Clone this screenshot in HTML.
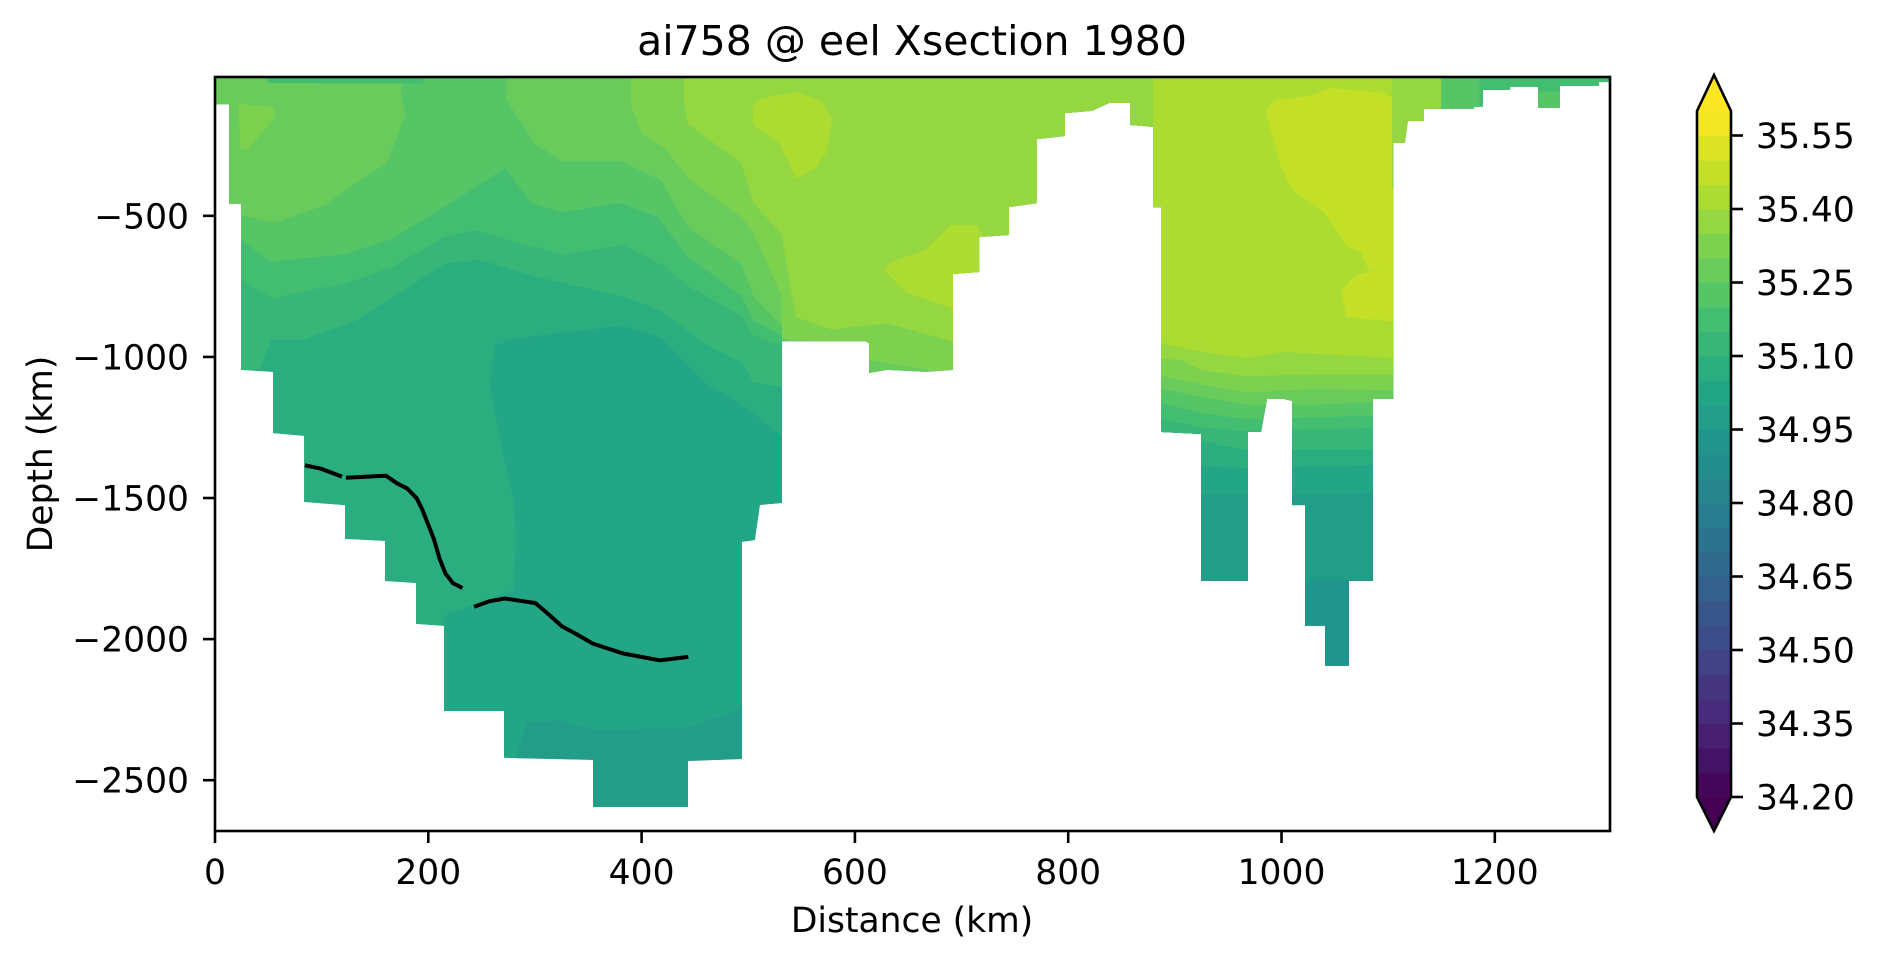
<!DOCTYPE html>
<html>
<head>
<meta charset="utf-8">
<style>
  html,body{margin:0;padding:0;background:#fff;}
  svg{display:block;font-family:"DejaVu Sans","Liberation Sans",sans-serif;}
</style>
</head>
<body>
<svg id="chart" width="1880" height="963" viewBox="0 0 1880 963" xmlns="http://www.w3.org/2000/svg">
  <rect x="0" y="0" width="1880" height="963" fill="#fff"/>
  <text x="912" y="55" font-size="41" text-anchor="middle" fill="#000">ai758 @ eel Xsection 1980</text>
  <defs><clipPath id="maskclip"><polygon id="maskpoly"/></clipPath></defs>
  <g id="field" clip-path="url(#maskclip)"></g>
  <g id="isoline"></g>
  <rect x="215" y="77" width="1395" height="754" fill="none" stroke="#000" stroke-width="2.6"/>
  <g id="xaxis"></g>
  <g id="yaxis"></g>
  <text x="912" y="932" font-size="34.5" text-anchor="middle">Distance (km)</text>
  <text x="0" y="0" font-size="34.5" text-anchor="middle" transform="translate(52,454) rotate(-90)">Depth (km)</text>
  <g id="cbar"></g>
</svg>
<script>
// ---- data ----
const xTicks = [0, 200, 400, 600, 800, 1000, 1200];
const yTicks = [-500, -1000, -1500, -2000, -2500];
const cbarTicks = [34.20, 34.35, 34.50, 34.65, 34.80, 34.95, 35.10, 35.25, 35.40, 35.55];
const levelMin = 34.20, levelStep = 0.05, levelCount = 28;
const dataMask = [[0,-8],[1308,-8],[1308,-26],[1297.7,-26],[1297.7,-40],[1261.1,-40],[1261.1,-118],[1240.5,-118],[1240.5,-43],[1214.3,-43],[1214.3,-54],[1188.9,-54],[1188.9,-114],[1180.5,-114],[1180.5,-121],[1133.6,-121],[1133.6,-164],[1118.6,-164],[1115.8,-242],[1104.6,-242],[1104.6,-1149],[1085.8,-1149],[1085.8,-1794],[1063.3,-1794],[1063.3,-2095],[1040.8,-2095],[1040.8,-1953],[1022,-1953],[1022,-1525],[1009.8,-1525],[1009.8,-1156],[1002.3,-1149],[986.4,-1149],[980.8,-1266],[968.6,-1266],[968.6,-1794],[924.5,-1794],[924.5,-1273],[887,-1266],[887,-469],[879.5,-469],[879.5,-185],[857.9,-178],[857.9,-100],[838.3,-100],[822.3,-128],[797,-136],[797,-217],[770.7,-228],[770.7,-455],[744.5,-469],[744.5,-568],[716.4,-575],[716.4,-699],[692,-706],[692,-1046],[666.7,-1053],[630.1,-1046],[613.2,-1057],[613.2,-951],[609.5,-944],[531.6,-944],[531.6,-1518],[511,-1525],[506.3,-1649],[494.1,-1656],[494.1,-2425],[443.5,-2432],[443.5,-2595],[354.4,-2595],[354.4,-2428],[271,-2421],[271,-2255],[214.7,-2255],[214.7,-1953],[188.5,-1946],[188.5,-1801],[159.4,-1794],[159.4,-1652],[121.9,-1645],[121.9,-1525],[83.5,-1514],[83.5,-1280],[54.4,-1270],[54.4,-1053],[24.4,-1046],[24.4,-458],[13.1,-458],[13.1,-104],[0,-104]];
const baseLevel = 16;
const regionLevels = [15,17,18,19,20,21,21,22,22,23,24,24,19, 14,15,16,17,18,19,20,21,22,23,24,25,25,23,20,19,20];
const regionShapes = [
 [[282.3,-2420],[293.1,-2298],[325.4,-2289],[354.1,-2324],[443.8,-2315],[494,-2246],[515.6,-2246],[515.6,-2942],[282.3,-2942]],
 [[-20,100],[605,100],[605,-1280],[531.7,-1280],[494,-1167],[461.7,-1097],[418.7,-932],[382.8,-888],[282.3,-932],[262.6,-958],[257.2,-1097],[268,-1306],[278.8,-1497],[282.3,-1637],[278.8,-1828],[214.9,-1915],[214.9,-2942],[-20,-2942]],
 [[-20,100],[-20,-1045],[42,-1045],[52.7,-937],[83.2,-937],[131.6,-871],[167.5,-787],[214.2,-671],[246.5,-653],[300.3,-714],[382.8,-784],[418.7,-836],[461.7,-958],[494,-1019],[504.8,-1088],[531.7,-1106],[540,-1106],[880,-1100],[880,100]],
 [[-20,100],[-20,-723],[24,-723],[54.5,-793],[81.4,-766],[120.9,-740],[167.5,-679],[214.2,-575],[242.9,-549],[275.2,-584],[325.4,-636],[382.8,-601],[422.3,-679],[443.8,-749],[494,-854],[504.8,-923],[531.7,-958],[540,-996],[880,-1100],[880,100]],
 [[-20,100],[-20,-584],[24,-584],[52.7,-662],[120.9,-636],[163.9,-584],[210.6,-479],[271.6,-331],[296.7,-453],[325.4,-488],[381,-453],[415.1,-505],[443.8,-645],[494,-784],[504.8,-871],[531.7,-923],[540,-940],[880,-1100],[880,100]],
 [[-20,100],[174.7,100],[174.7,-87.6],[178.3,-140],[160.4,-314],[131.6,-384],[102.9,-462],[56.3,-523],[24,-497],[13.2,-453],[-20,-453]],
 [[273.4,100],[273.4,-87.6],[300.3,-244],[325.4,-305],[381,-305],[418.7,-375],[443.8,-540],[494,-671],[504.8,-784],[531.7,-888],[531.8,-931],[600,-1100],[880,-1100],[880,100]],
 [[22.2,-105],[54.5,-114],[56.3,-149],[31.2,-262],[24,-262]],
 [[390,100],[390,-105],[400.7,-209],[422.3,-262],[443.8,-366],[494,-505],[504.8,-557],[531.7,-784],[531.8,-938],[573.3,-945],[614.8,-1010],[692.7,-1061],[880,-1061],[880,100]],
 [[440.2,100],[440.2,-105],[443.8,-175],[494,-314],[504.8,-453],[529.9,-557],[531.8,-576],[544.7,-858],[578.5,-902],[630.4,-880],[692.7,-945],[880,-945],[880,100]],
 [[504.8,-114],[512,-85],[544.3,-61],[568.1,-91.7],[578.5,-156.8],[573.3,-272],[562.9,-330],[544.7,-366],[529.9,-244],[504.8,-175]],
 [[627.8,-692],[648.6,-772],[692.7,-829],[692.7,-706],[716.1,-699],[721.3,-576],[713.5,-533],[690.1,-533],[666.8,-620],[635.6,-663]],
 [[40,100],[200,100],[195,-30],[50,-28]],
 [[880,100],[1110,100],[1110,-3000],[880,-3000]],
 [[880,100],[1110,100],[1110,-1791],[880,-1791]],
 [[880,100],[1110,100],[1110,-1480],[1022,-1487],[968,-1487],[926,-1487],[880,-1487]],
 [[880,100],[1110,100],[1110,-1379],[1030,-1386],[968,-1393],[926,-1386],[880,-1386]],
 [[880,100],[1110,100],[1110,-1328],[1030,-1328],[968,-1328],[926,-1299],[880,-1299]],
 [[880,100],[1110,100],[1110,-1249],[1030,-1256],[968,-1263],[926,-1249],[880,-1213]],
 [[880,100],[1110,100],[1110,-1205],[1030,-1213],[968,-1220],[926,-1198],[880,-1155]],
 [[880,100],[1110,100],[1110,-1155],[1030,-1169],[968,-1169],[926,-1140],[880,-1108]],
 [[880,100],[1110,100],[1110,-1119],[1030,-1111],[968,-1126],[926,-1097],[880,-1061]],
 [[880,100],[1110,100],[1110,-1061],[1030,-1061],[968,-1068],[926,-1046],[906,-1010],[880,-1003]],
 [[880,100],[1110,100],[1110,-1003],[999,-981],[968,-1003],[926,-981],[880,-945]],
 [[986.1,-128],[993.8,-92],[1025,-77],[1045.8,-48],[1092.5,-63],[1105.5,-84],[1105.5,-692],[1082.1,-692],[1074.3,-627],[1061.4,-605],[1040.6,-489],[1009.4,-403],[999,-316],[986.1,-142]],
 [[1056.2,-764],[1069.1,-714],[1082.1,-699],[1104.4,-685],[1104.4,-873],[1061.4,-858]],
 [[1104,100],[1150,100],[1150,-400],[1104,-400]],
 [[1150,100],[1186,100],[1186,-400],[1150,-400]],
 [[1186,100],[1320,100],[1320,-400],[1186,-400]],
 [[1238,-60],[1262,-60],[1262,-400],[1238,-400]]
];
const lineSegA = [[84.3,-1384],[99.4,-1396],[119.1,-1424]];
const lineSegB = [[122.7,-1428],[160.3,-1421],[171.1,-1449],[180.1,-1466],[189.1,-1501],[194.4,-1541],[199.8,-1593],[205.2,-1645],[210.6,-1715],[216,-1767],[223.1,-1802],[232.1,-1819]];
const lineSegC = [[242.9,-1885],[257.2,-1866],[271.6,-1856],[300.3,-1872],[311,-1906],[325.4,-1955],[339.7,-1984],[354.1,-2016],[382.8,-2051],[416.9,-2075],[443.8,-2063]];

// ---- scales ----
const X0=215, X1=1610, XMIN=0, XMAX=1308;
const Y0=77, Y1=831, YTOP=-8, YBOT=-2680;
function sx(v){ return X0 + (v-XMIN)/(XMAX-XMIN)*(X1-X0); }
function sy(v){ return Y0 + (YTOP-v)/(YTOP-YBOT)*(Y1-Y0); }
const CB_TOP=111, CB_BOT=797, CB_X=1697, CB_W=34;
function cy(v){ return CB_BOT - (v-levelMin)/(levelStep*levelCount)*(CB_BOT-CB_TOP); }

const VIR = ["#440154","#482475","#414487","#355f8d","#2a788e","#21918c","#22a884","#44bf70","#7ad151","#bddf26","#fde725"];
function hex(c){ return [parseInt(c.slice(1,3),16),parseInt(c.slice(3,5),16),parseInt(c.slice(5,7),16)]; }
function viridis(t){
  t=Math.max(0,Math.min(1,t)); const f=t*10, i=Math.min(9,Math.floor(f)), r=f-i;
  const a=hex(VIR[i]), b=hex(VIR[i+1]);
  return "rgb("+a.map((v,j)=>Math.round(v+(b[j]-v)*r)).join(",")+")";
}
function bandColor(k){ return viridis((k+0.5)/levelCount); }
function pts(arr){ return arr.map(p=>sx(p[0]).toFixed(1)+","+sy(p[1]).toFixed(1)).join(" "); }

const NS="http://www.w3.org/2000/svg";
const field=document.getElementById("field");
document.getElementById("maskpoly").setAttribute("points", pts(dataMask));

const base=document.createElementNS(NS,"polygon");


base.setAttribute("points", pts(dataMask));
base.setAttribute("fill", bandColor(baseLevel));
field.appendChild(base);

regionShapes.forEach((shape,i)=>{
  const p=document.createElementNS(NS,"polygon");
  
  
  p.setAttribute("points", pts(shape));
  p.setAttribute("fill", bandColor(regionLevels[i]));
  p.setAttribute("stroke", bandColor(regionLevels[i]));
  p.setAttribute("stroke-width", "0.6");
  field.appendChild(p);
});

const iso=document.getElementById("isoline");
[lineSegA,lineSegB,lineSegC].forEach(seg=>{
  const l=document.createElementNS(NS,"polyline");
  
  
  l.setAttribute("points", pts(seg));
  l.setAttribute("fill","none");
  l.setAttribute("stroke","#000");
  l.setAttribute("stroke-width","4");
  iso.appendChild(l);
});

const xa=document.getElementById("xaxis");
xTicks.forEach(v=>{
  const t=document.createElementNS(NS,"line");
  
  
  t.setAttribute("x1",sx(v)); t.setAttribute("x2",sx(v));
  t.setAttribute("y1",Y1); t.setAttribute("y2",Y1+12);
  t.setAttribute("stroke","#000"); t.setAttribute("stroke-width","2.6");
  xa.appendChild(t);
  const s=document.createElementNS(NS,"text");
  
  
  s.setAttribute("x",sx(v)); s.setAttribute("y",884);
  s.setAttribute("font-size","34.5"); s.setAttribute("text-anchor","middle");
  s.textContent=String(v);
  xa.appendChild(s);
});
const ya=document.getElementById("yaxis");
yTicks.forEach(v=>{
  const t=document.createElementNS(NS,"line");
  
  
  t.setAttribute("x1",X0-12); t.setAttribute("x2",X0);
  t.setAttribute("y1",sy(v)); t.setAttribute("y2",sy(v));
  t.setAttribute("stroke","#000"); t.setAttribute("stroke-width","2.6");
  ya.appendChild(t);
  const s=document.createElementNS(NS,"text");
  
  
  s.setAttribute("x",189); s.setAttribute("y",sy(v)+12.5);
  s.setAttribute("font-size","34.5"); s.setAttribute("text-anchor","end");
  s.textContent="\u2212"+String(Math.abs(v));
  ya.appendChild(s);
});

const cb=document.getElementById("cbar");
for(let k=0;k<levelCount;k++){
  const r=document.createElementNS(NS,"rect");
  
  
  const yA=cy(levelMin+(k+1)*levelStep), yB=cy(levelMin+k*levelStep);
  r.setAttribute("x",CB_X); r.setAttribute("y",yA);
  r.setAttribute("width",CB_W); r.setAttribute("height",yB-yA+0.6);
  r.setAttribute("fill",bandColor(k));
  cb.appendChild(r);
}
const triTop=document.createElementNS(NS,"polygon");


triTop.setAttribute("points",`${CB_X},${CB_TOP} ${CB_X+CB_W/2},75 ${CB_X+CB_W},${CB_TOP}`);
triTop.setAttribute("fill",viridis(1));
cb.appendChild(triTop);
const triBot=document.createElementNS(NS,"polygon");


triBot.setAttribute("points",`${CB_X},${CB_BOT} ${CB_X+CB_W/2},831 ${CB_X+CB_W},${CB_BOT}`);
triBot.setAttribute("fill",viridis(0));
cb.appendChild(triBot);
const outline=document.createElementNS(NS,"polygon");


outline.setAttribute("points",`${CB_X},${CB_TOP} ${CB_X+CB_W/2},75 ${CB_X+CB_W},${CB_TOP} ${CB_X+CB_W},${CB_BOT} ${CB_X+CB_W/2},831 ${CB_X},${CB_BOT}`);
outline.setAttribute("fill","none"); outline.setAttribute("stroke","#000"); outline.setAttribute("stroke-width","2.6");
cb.appendChild(outline);
cbarTicks.forEach(v=>{
  const t=document.createElementNS(NS,"line");
  
  
  t.setAttribute("x1",CB_X+CB_W); t.setAttribute("x2",CB_X+CB_W+12);
  t.setAttribute("y1",cy(v)); t.setAttribute("y2",cy(v));
  t.setAttribute("stroke","#000"); t.setAttribute("stroke-width","2.6");
  cb.appendChild(t);
  const s=document.createElementNS(NS,"text");
  
  
  s.setAttribute("x",1756); s.setAttribute("y",cy(v)+12.5);
  s.setAttribute("font-size","34.5");
  s.textContent=v.toFixed(2);
  cb.appendChild(s);
});
</script>
</body>
</html>
